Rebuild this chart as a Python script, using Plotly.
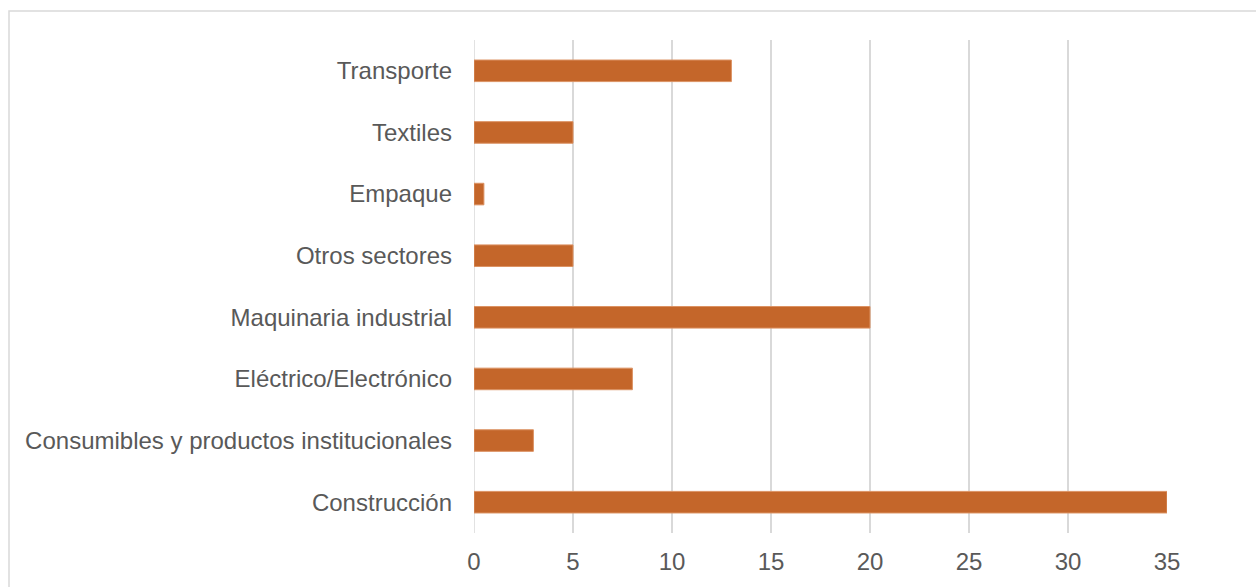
import plotly.graph_objects as go

# Sector names, listed from top to bottom of the chart
sectores = [
    "Transporte",
    "Textiles",
    "Empaque",
    "Otros sectores",
    "Maquinaria industrial",
    "Eléctrico/Electrónico",
    "Consumibles y productos institucionales",
    "Construcción",
]
valores = [13, 5, 0.5, 5, 20, 8, 3, 35]
ticks_x = [0, 5, 10, 15, 20, 25, 30, 35]

W, H = 1256, 587
ml, mr, mt, mb = 474, 89, 40, 54
pw, ph = W - ml - mr, H - mt - mb

fig = go.Figure(
    go.Bar(
        x=valores,
        y=sectores,
        orientation="h",
        marker=dict(color="#C4662A", line=dict(color="#DC9263", width=1)),
        hoverinfo="x+y",
    )
)

# light grey frame around the chart area
fx0 = (9 - ml) / pw
fy1 = (H - mb - 11) / ph
fig.add_shape(
    type="rect", xref="paper", yref="paper",
    x0=fx0, x1=2.0, y0=-1.0, y1=fy1,
    line=dict(color="#D9D9D9", width=1.5), fillcolor="rgba(0,0,0,0)",
    layer="below",
)

font = dict(family="Arial, 'Liberation Sans', sans-serif", size=24, color="#595959")

fig.update_layout(
    width=W, height=H,
    margin=dict(l=ml, r=mr, t=mt, b=mb, pad=0),
    paper_bgcolor="white", plot_bgcolor="white",
    font=font,
    bargap=0.65,
    showlegend=False,
    xaxis=dict(
        range=[0, 35],
        tickvals=ticks_x,
        showgrid=True, gridcolor="#D9D9D9", gridwidth=1.5,
        zeroline=False, showline=False, ticks="",
        ticklabelstandoff=12,
        tickfont=font,
    ),
    yaxis=dict(
        autorange="reversed",
        showgrid=False, zeroline=False, showline=False, ticks="",
        ticklabelstandoff=21,
        tickfont=font,
    ),
)
# zero line drawn like the other grid lines
fig.add_shape(
    type="line", xref="x", yref="paper", x0=0, x1=0, y0=0, y1=1,
    line=dict(color="#D9D9D9", width=1.5), layer="below",
)

fig.write_html("out.html")
